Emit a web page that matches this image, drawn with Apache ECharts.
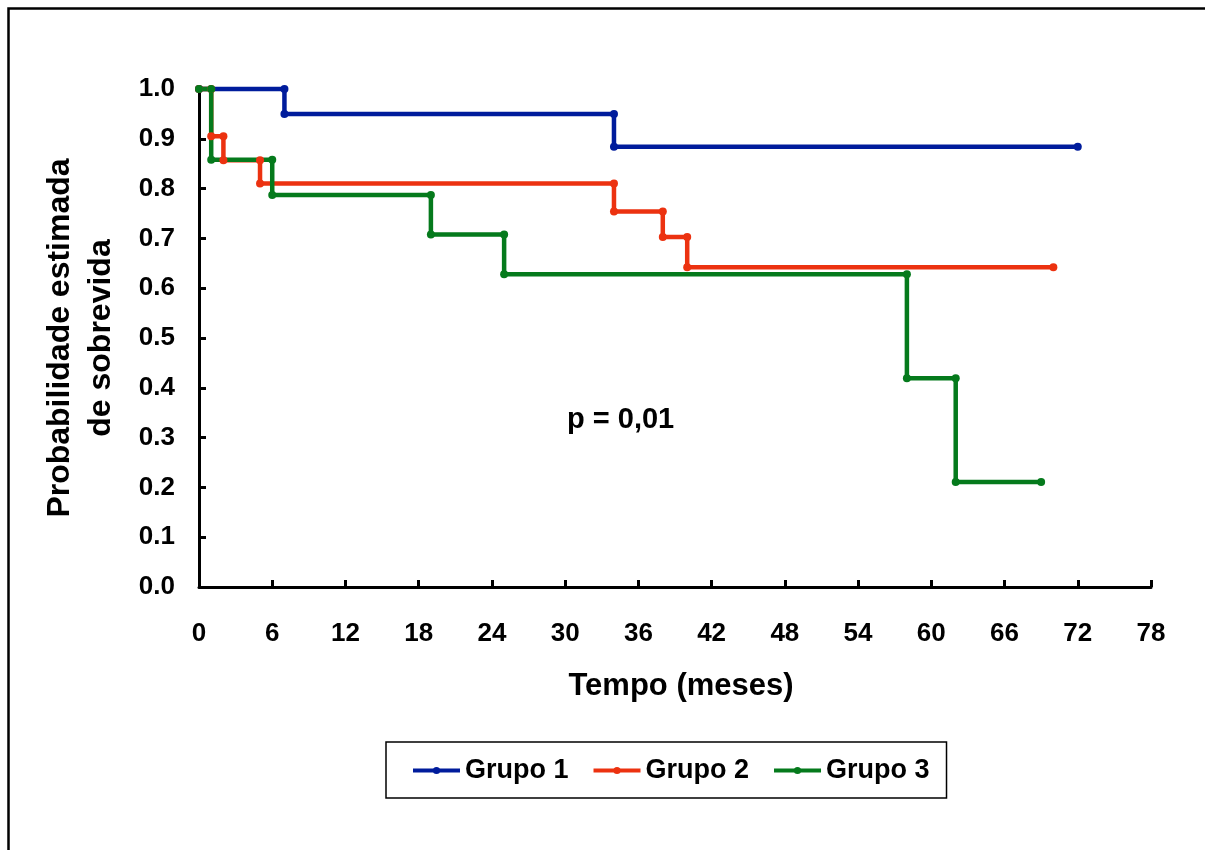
<!DOCTYPE html>
<html>
<head>
<meta charset="utf-8">
<script src="https://cdn.jsdelivr.net/npm/echarts@6/dist/echarts.min.js"></script>
<style>
  html, body { margin: 0; padding: 0; background: #fff; }
  #chart { width: 1205px; height: 850px; }
</style>
</head>
<body>
<div id="chart"></div>
<script>
// tempos (meses) e probabilidade estimada de sobrevida em cada evento
const g1Time = [0, 7, 34, 72];
const g1Surv = [1.0, 0.95, 0.884, 0.884];
const g2Time = [0, 1, 2, 5, 34, 38, 40, 70];
const g2Surv = [1.0, 0.905, 0.857, 0.81, 0.754, 0.703, 0.642, 0.642];
const g3Time = [0, 1, 6, 19, 25, 58, 62, 69];
const g3Surv = [1.0, 0.858, 0.787, 0.708, 0.628, 0.419, 0.211, 0.211];

const groupNames = ['Grupo 1', 'Grupo 2', 'Grupo 3'];
const groupColors = ['#001c9c', '#ec3210', '#057a1c'];
const pText = 'p = 0,01';

const font = 'Liberation Sans, Arial, sans-serif';

// monta os vertices da curva em escada (Kaplan-Meier)
const stepPoints = (times, surv) => {
  const pts = [[times[0], surv[0]]];
  for (let i = 1; i < times.length; i++) {
    pts.push([times[i], surv[i - 1]]);
    if (surv[i] !== surv[i - 1]) pts.push([times[i], surv[i]]);
  }
  return pts;
};

const curves = [
  stepPoints(g1Time, g1Surv),
  stepPoints(g2Time, g2Surv),
  stepPoints(g3Time, g3Surv)
];

const chart = echarts.init(document.getElementById('chart'));

const options = {
  animation: false,
  grid: { left: 199, right: 54, top: 89, bottom: 263 },
  graphic: [
    {
      type: 'rect',
      shape: { x: 8.5, y: 8.5, width: 1400, height: 1000 },
      style: { fill: 'none', stroke: '#000', lineWidth: 2.5 },
      silent: true
    },
    {
      type: 'text',
      left: 567,
      top: 405,
      style: { text: pText, font: 'bold 29px ' + font, fill: '#000' }
    }
  ],
  legend: {
    data: groupNames,
    left: 386,
    top: 742,
    orient: 'horizontal',
    padding: [15, 17, 14, 25],
    itemGap: 23,
    itemWidth: 47,
    itemHeight: 9,
    borderColor: '#000',
    borderWidth: 1.5,
    lineStyle: { width: 4 },
    textStyle: { fontFamily: font, fontWeight: 'bold', fontSize: 27, color: '#000' }
  },
  xAxis: {
    type: 'value',
    min: 0,
    max: 78,
    interval: 6,
    name: 'Tempo (meses)',
    nameLocation: 'middle',
    nameGap: 84,
    nameTextStyle: { fontFamily: font, fontWeight: 'bold', fontSize: 31, color: '#000', padding: [0, 0, 0, 12] },
    axisLine: { onZero: false, lineStyle: { color: '#000', width: 3 } },
    axisTick: { inside: true, length: 7, lineStyle: { color: '#000', width: 3 } },
    axisLabel: { fontFamily: font, fontWeight: 'bold', fontSize: 26, color: '#000', margin: 34 },
    splitLine: { show: false }
  },
  yAxis: {
    type: 'value',
    min: 0,
    max: 1,
    interval: 0.1,
    name: 'Probabilidade estimada\nde sobrevida',
    nameLocation: 'middle',
    nameRotate: 90,
    nameGap: 77,
    nameTextStyle: { fontFamily: font, fontWeight: 'bold', fontSize: 32, color: '#000', lineHeight: 41 },
    axisLine: { onZero: false, lineStyle: { color: '#000', width: 3 } },
    axisTick: { inside: true, length: 7, lineStyle: { color: '#000', width: 3 } },
    axisLabel: {
      fontFamily: font, fontWeight: 'bold', fontSize: 26, color: '#000', margin: 24,
      formatter: v => v.toFixed(1)
    },
    splitLine: { show: false }
  },
  series: groupNames.map((name, i) => ({
    name: name,
    type: 'line',
    data: curves[i],
    symbol: 'circle',
    symbolSize: 8,
    itemStyle: { color: groupColors[i] },
    lineStyle: { color: groupColors[i], width: 4.5 },
    clip: false
  }))
};

chart.setOption(options);
window.addEventListener('resize', () => chart.resize());
</script>
</body>
</html>
